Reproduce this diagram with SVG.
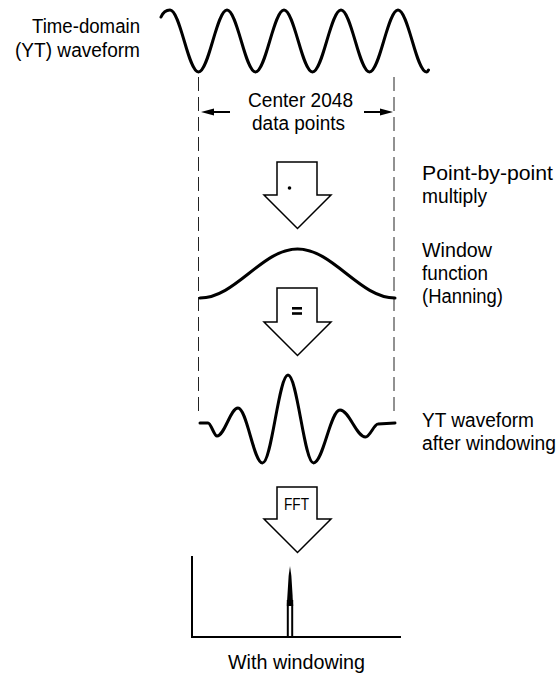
<svg xmlns="http://www.w3.org/2000/svg" width="560" height="681" viewBox="0 0 560 681">
<style>
text{font-family:"Liberation Sans",Arial,sans-serif;font-size:20px;fill:#000}
.wave{fill:none;stroke:#000;stroke-width:3;stroke-linecap:round;stroke-linejoin:round}
.block{fill:#fff;stroke:#000;stroke-width:1.5;stroke-linejoin:miter}
.dash{stroke:#222;stroke-width:1;stroke-dasharray:14 6;fill:none}
.axis{stroke:#000;stroke-width:2;fill:none}
</style>
<rect width="560" height="681" fill="#fff"/>
<g id="connectors">
  <line class="dash" x1="198.5" y1="77" x2="198.5" y2="415"/>
  <line class="dash" x1="394" y1="77" x2="394" y2="415"/>
  <line x1="230" y1="112" x2="207" y2="112" stroke="#000" stroke-width="2"/>
  <polygon points="201,112 214,108.5 214,115.5" fill="#000"/>
  <line x1="364" y1="112" x2="387" y2="112" stroke="#000" stroke-width="2"/>
  <polygon points="393,112 380,108.5 380,115.5" fill="#000"/>
</g>
<g id="time-domain">
  <path class="wave" d="M161,17 Q164,10 170,10 C180.4,10 188.1,72 198.5,72 S216.6,10 227,10 S245.1,72 255.5,72 S273.6,10 284,10 S302.1,72 312.5,72 S330.6,10 341,10 S359.1,72 369.5,72 S387.6,10 398,10 S416.1,72 426.5,72 Q427.5,72 428.5,70"/>
  <text x="32" y="33" textLength="108" lengthAdjust="spacingAndGlyphs">Time-domain</text>
  <text x="15" y="57" textLength="125" lengthAdjust="spacingAndGlyphs">(YT) waveform</text>
</g>
<g id="center-label">
  <text x="248" y="107" textLength="105" lengthAdjust="spacingAndGlyphs">Center 2048</text>
  <text x="252" y="130" textLength="93" lengthAdjust="spacingAndGlyphs">data points</text>
</g>
<g id="multiply-arrow">
  <polygon class="block" points="277,162 317,162 317,195 331,195 297.5,228.5 264,195 277,195"/>
  <circle cx="289.5" cy="188" r="1.8" fill="#000"/>
  <text x="422" y="180" textLength="131" lengthAdjust="spacingAndGlyphs">Point-by-point</text>
  <text x="422" y="203" textLength="65" lengthAdjust="spacingAndGlyphs">multiply</text>
</g>
<g id="window-function">
  <path class="wave" d="M200,298 C235.5,298 262,249 297.5,249 S359.5,298 395,298"/>
  <text x="422" y="257" textLength="70" lengthAdjust="spacingAndGlyphs">Window</text>
  <text x="422" y="280" textLength="66" lengthAdjust="spacingAndGlyphs">function</text>
  <text x="422" y="303" textLength="81" lengthAdjust="spacingAndGlyphs">(Hanning)</text>
</g>
<g id="equals-arrow">
  <polygon class="block" points="277,288 317,288 317,322 331,322 297.5,355.5 264,322 277,322"/>
  <rect x="292" y="307" width="10" height="2.6" fill="#000"/>
  <rect x="292" y="312.2" width="10" height="2.6" fill="#000"/>
</g>
<g id="windowed-waveform">
  <path class="wave" d="M200,423 L208,423 C211,423 214,436 217,436 C224.6,436 230.4,408 238,408 C246.9,408 253.6,463 262.5,463 C271.8,463 278.7,375 288,375 C297.3,375 304.2,463 313.5,463 C323.2,463 330.3,410 340,410 C349.3,410 356.2,437 365.5,437 C370,437 374,424 378,424 L395,423"/>
  <text x="422" y="427" textLength="112" lengthAdjust="spacingAndGlyphs">YT waveform</text>
  <text x="422" y="450" textLength="134" lengthAdjust="spacingAndGlyphs">after windowing</text>
</g>
<g id="fft-arrow">
  <polygon class="block" points="277,487 317,487 317,519 331,519 297.5,552.5 264,519 277,519"/>
  <text x="284" y="510" style="font-size:16px" textLength="25" lengthAdjust="spacingAndGlyphs">FFT</text>
</g>
<g id="spectrum">
  <polyline class="axis" points="192,556 192,637 401,637"/>
  <polygon points="286.8,606 288.6,576 290,566 291.4,576 293.2,606" fill="#000"/>
  <line x1="287.8" y1="600" x2="287.8" y2="637" stroke="#000" stroke-width="2"/>
  <line x1="292.2" y1="600" x2="292.2" y2="637" stroke="#000" stroke-width="2"/>
  <text x="228" y="669" textLength="137" lengthAdjust="spacingAndGlyphs">With windowing</text>
</g>
</svg>
